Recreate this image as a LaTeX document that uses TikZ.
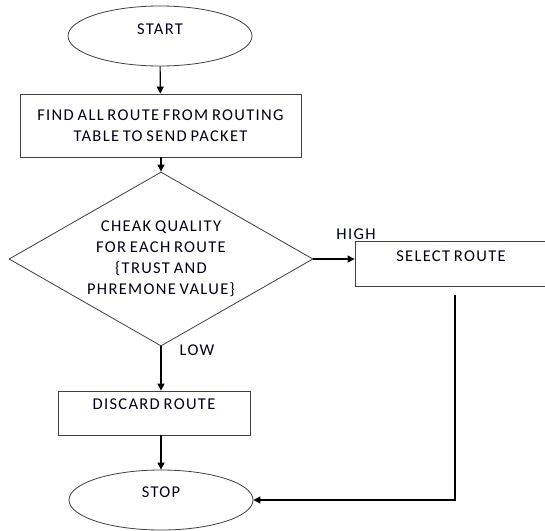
\documentclass[tikz,border=0pt]{standalone}
\usepackage{fontspec}
\setmainfont{Carlito}[LetterSpace=8, WordSpace=0.75]
\usetikzlibrary{arrows.meta,shapes.geometric}
\begin{document}
\begin{tikzpicture}[x=1pt,y=-1pt,
  every node/.style={font=\fontsize{16.5}{21}\selectfont, text=black!90!blue},
  shapeline/.style={draw=black!75, line width=0.8pt, inner sep=0pt},
  ell/.style={shapeline, ellipse, minimum width=184pt, minimum height=60pt},
  boxnode/.style={shapeline, rectangle},
  dec/.style={shapeline, diamond, minimum width=304pt, minimum height=174pt},
  flow/.style={draw=black, line width=1.1pt, -{Triangle[length=7pt,width=7pt]}},
  lbl/.style={inner sep=0pt, align=center}
]
\clip (0,0) rectangle (545,530);
\fill[white] (0,0) rectangle (545,530);

\node[ell, label={[lbl, yshift=7pt]center:START}] (start) at (160,36) {};
\node[boxnode, minimum width=281pt, minimum height=63pt,
  label={[lbl]center:FIND ALL ROUTE FROM ROUTING\\TABLE TO SEND PACKET}] (find) at (160.5,125.5) {};
\node[dec, label={[lbl]center:CHEAK QUALITY\\FOR EACH ROUTE\\\{TRUST AND\\PHREMONE VALUE\}}] (check) at (161,259) {};
\node[boxnode, minimum width=215pt, minimum height=45pt,
  label={[lbl, xshift=-11.5pt, yshift=7.5pt]center:SELECT ROUTE}] (select) at (462.5,263.5) {};
\node[boxnode, minimum width=192pt, minimum height=44pt,
  label={[lbl, yshift=9pt]center:DISCARD ROUTE}] (discard) at (154,413) {};
\node[ell, minimum width=184pt, minimum height=60pt, label={[lbl, yshift=8pt]center:STOP}] (stop) at (161,500) {};

\node[lbl] (high) at (356,234) {HIGH};
\node[lbl] (low) at (197,350) {LOW};

\coordinate (selout) at (455,295);

\draw[flow] (start) -- (find);
\draw[flow] (find.south -| check.north) -- (check.north);
\draw[flow] (check.east) -- (check.east -| select.west);
\draw[flow] (check.south) -- (check.south |- discard.north);
\draw[flow] (discard.south -| check.south) -- (stop);
\draw[flow] (selout) |- (stop);
\end{tikzpicture}
\end{document}
